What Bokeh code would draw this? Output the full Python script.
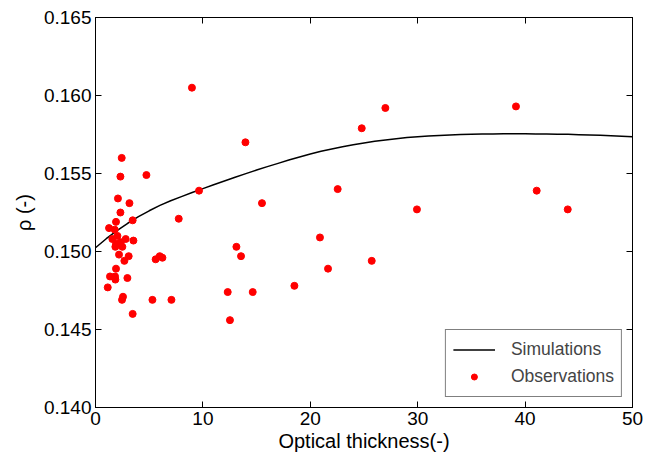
from bokeh.plotting import figure
from bokeh.models import (Range1d, FixedTicker, NumeralTickFormatter, LinearAxis, Legend,
                          LegendItem, ColumnDataSource, CustomLabelingPolicy)
from bokeh.embed import file_html
from bokeh.resources import INLINE

# Simulation curve
sim_x = list(range(0, 51))
sim_y = [0.15024, 0.15082, 0.15134, 0.15181, 0.15223, 0.15261, 0.15296, 0.15325, 0.15352, 0.15378,
         0.15403, 0.15428, 0.15452, 0.15476, 0.15499, 0.15522, 0.15544, 0.15565, 0.15586, 0.15606,
         0.15625, 0.15642, 0.15657, 0.15671, 0.15684, 0.15696, 0.15706, 0.15715, 0.15723, 0.15730,
         0.15736, 0.15741, 0.15744, 0.15747, 0.15750, 0.15752, 0.15753, 0.15754, 0.15755, 0.15755,
         0.15755, 0.15754, 0.15753, 0.15752, 0.15751, 0.15749, 0.15747, 0.15745, 0.15742, 0.15739,
         0.15736]

# Observations
obs_x = [2.44, 2.32, 4.74, 2.09, 3.16, 2.32, 9.64, 3.46, 1.91, 7.75,
         1.26, 1.79, 2.04, 1.57, 2.81, 3.53, 2.35, 1.91, 1.85, 2.50,
         2.19, 3.09, 2.69, 5.60, 5.98, 6.23, 1.91, 1.35, 1.82, 1.85,
         2.97, 1.14, 2.56, 2.47, 5.30, 7.07, 3.46, 8.98, 26.99, 24.79,
         13.96, 22.55, 15.50, 29.93, 20.90, 13.12, 13.55, 25.72, 21.65, 12.31,
         14.64, 18.52, 12.52, 39.15, 41.08, 43.97]
obs_y = [0.1560, 0.1548, 0.1549, 0.1534, 0.1531, 0.1525, 0.1539, 0.1520, 0.1519, 0.1521,
         0.1515, 0.1514, 0.1510, 0.1508, 0.1508, 0.1507, 0.1506, 0.1505, 0.1503, 0.1503,
         0.1498, 0.1497, 0.1494, 0.1495, 0.1497, 0.1496, 0.1489, 0.1484, 0.1484, 0.1482,
         0.1483, 0.1477, 0.1471, 0.1469, 0.1469, 0.1469, 0.1460, 0.1605, 0.1592, 0.1579,
         0.1570, 0.1540, 0.1531, 0.1527, 0.1509, 0.1503, 0.1497, 0.1494, 0.1489, 0.1474,
         0.1474, 0.1478, 0.1456, 0.1593, 0.1539, 0.1527]

x_ticks = [0, 10, 20, 30, 40, 50]
y_ticks = [0.140, 0.145, 0.150, 0.155, 0.160, 0.165]

FONT = "Liberation Sans"
FS = "19px"

p = figure(width=658, height=461, output_backend="svg", toolbar_location=None,
           x_range=Range1d(0, 50), y_range=Range1d(0.140, 0.165),
           min_border_left=95, min_border_right=26, min_border_top=17, min_border_bottom=54)
p.background_fill_color = "white"
p.border_fill_color = "white"
p.outline_line_color = "black"
p.outline_line_width = 1
p.grid.visible = False

for ax in (p.xaxis[0], p.yaxis[0]):
    ax.major_label_text_font = FONT
    ax.major_label_text_font_size = FS
    ax.major_label_text_color = "black"
    ax.axis_label_text_font = FONT
    ax.axis_label_text_font_size = "20px"
    ax.axis_label_text_font_style = "normal"
    ax.axis_label_text_color = "black"
    ax.major_tick_in = 6
    ax.major_tick_out = 0
    ax.minor_tick_line_color = None
    ax.axis_line_color = "black"
    ax.major_tick_line_color = "black"

p.xaxis[0].ticker = FixedTicker(ticks=x_ticks)
p.yaxis[0].ticker = FixedTicker(ticks=y_ticks)
p.yaxis[0].formatter = NumeralTickFormatter(format="0.000")
p.xaxis[0].axis_label = "Optical thickness(-)"
p.yaxis[0].axis_label = "ρ (-)"
p.xaxis[0].major_label_standoff = 4
p.yaxis[0].major_label_standoff = 4
p.xaxis[0].axis_label_standoff = 2
p.yaxis[0].axis_label_standoff = 6

no_labels = "for (let i = 0; i < indices.size; i++) { indices.unset(i) }\nreturn indices"

top = LinearAxis(ticker=FixedTicker(ticks=x_ticks),
                 major_label_policy=CustomLabelingPolicy(code=no_labels),
                 major_label_text_font_size="0px",
                 major_tick_in=6, major_tick_out=0, minor_tick_line_color=None,
                 axis_line_color="black", major_label_standoff=0)
right = LinearAxis(ticker=FixedTicker(ticks=y_ticks),
                   major_label_policy=CustomLabelingPolicy(code=no_labels),
                   major_label_text_font_size="0px",
                   major_tick_in=6, major_tick_out=0, minor_tick_line_color=None,
                   axis_line_color="black", major_label_standoff=0)
p.add_layout(top, "above")
p.add_layout(right, "right")

src_sim = ColumnDataSource(dict(x=sim_x, y=sim_y))
src_obs = ColumnDataSource(dict(x=obs_x, y=obs_y))
r_line = p.line("x", "y", source=src_sim, line_color="black", line_width=1.5)
r_obs = p.scatter("x", "y", source=src_obs, size=7, fill_color="red", line_color="red")

legend = Legend(items=[LegendItem(label="Simulations", renderers=[r_line]),
                       LegendItem(label="Observations", renderers=[r_obs])],
                location="bottom_right")
legend.label_text_font = FONT
legend.label_text_font_size = "17.5px"
legend.border_line_color = "black"
legend.border_line_width = 1
legend.margin = 10
legend.padding = 7
legend.spacing = 2
legend.label_height = 25
legend.glyph_height = 15
legend.glyph_width = 42
legend.label_standoff = 16
legend.background_fill_alpha = 1
p.add_layout(legend, "center")

open("out.html", "w").write(file_html(p, INLINE))
